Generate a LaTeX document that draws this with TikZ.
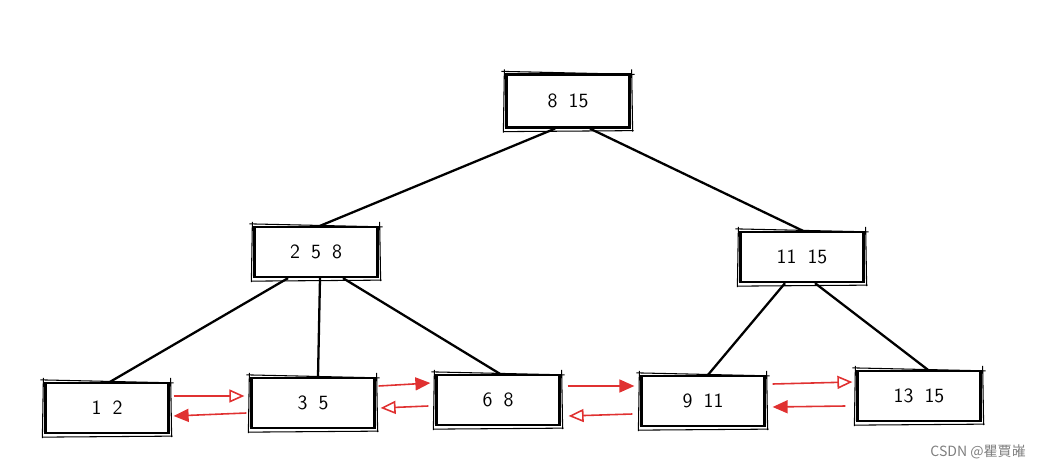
\documentclass[tikz,border=0pt]{standalone}
\usepackage{fontspec}
\newfontfamily\cjk{Noto Sans CJK SC}
\usetikzlibrary{arrows.meta,calc}
\definecolor{linkred}{RGB}{224,49,49}
\newcommand\keyfont{\sffamily\fontsize{11.5}{13}\selectfont\spaceskip=0.55em\relax}
\tikzset{
  keybox/.style={draw,line width=1.3pt,minimum width=2.46cm,minimum height=1cm,
    font=\keyfont},
  tedge/.style={line width=1.3pt},
  nxt/.style={linkred,line width=0.9pt,-{Triangle[open,length=3mm,width=2.6mm]}},
  prv/.style={linkred,line width=0.9pt,-{Triangle[length=3mm,width=2.6mm]}}
}
\begin{document}
\begin{tikzpicture}[x=0.02cm,y=-0.02cm]
\useasboundingbox (0,0) rectangle (1047,469);
%
\node[keybox,minimum height=1.06cm] (r) at (568,101) {8 15};
\node[keybox] (a) at (316,252) {2 5 8};
\node[keybox] (c) at (802,257) {11 15};
%
\node[keybox] (l1) at (107,408) {1 2};
\node[keybox] (l2) at (313,403) {3 5};
\node[keybox] (l3) at (498,400) {6 8};
\node[keybox] (l4) at (703,401) {9 11};
\node[keybox] (l5) at (919,396) {13 15};
% second stroke for the sketchy look
\foreach \n in {r,a,c,l1,l2,l3,l4,l5}{
  \draw[semithick] ($(\n.north west)+(-4,-2)$)--($(\n.north east)+(4,1)$);
  \draw[semithick] ($(\n.north east)+(1,-4)$)--($(\n.south east)+(2,3)$);
  \draw[semithick] ($(\n.south east)+(3,2)$)--($(\n.south west)+(-2,3)$);
  \draw[semithick] ($(\n.south west)+(-2,4)$)--($(\n.north west)+(-1,-4)$);}
%
\draw[tedge] ($(r.south)+(-13,0)$)--($(a.north)+(4,0)$);
\draw[tedge] ($(r.south)+(22,0)$)--($(c.north)+(1,0)$);
\draw[tedge] ($(a.south)+(-28,0)$)--($(l1.north)+(3,0)$);
\draw[tedge] ($(a.south)+(4,0)$)--($(l2.north)+(5,0)$);
\draw[tedge] ($(a.south)+(27,0)$)--($(l3.north)+(2,0)$);
\draw[tedge] ($(c.south)+(-17,0)$)--($(l4.north)+(5,0)$);
\draw[tedge] ($(c.south)+(13,0)$)--($(l5.north)+(9,0)$);
%===========================
\draw[nxt] ($(l1.east)+(4,-12)$)--($(l2.west)+(-6,-7)$);
\draw[prv] ($(l2.west)+(-4,10)$)--($(l1.east)+(4,8)$);
\draw[prv] ($(l2.east)+(3,-17)$)--($(l3.west)+(-5,-17)$);
\draw[nxt] ($(l3.west)+(-7,6)$)--($(l2.east)+(5,5)$);
\draw[prv] ($(l3.east)+(7,-14)$)--($(l4.west)+(-6,-15)$);
\draw[nxt] ($(l4.west)+(-8,13)$)--($(l3.east)+(8,16)$);
\draw[nxt] ($(l4.east)+(7,-17)$)--($(l5.west)+(-4,-14)$);
\draw[prv] ($(l5.west)+(-11,10)$)--($(l4.east)+(7,6)$);
%
\node[text=gray,font=\cjk\fontsize{8}{10}\selectfont,anchor=east] (wm) at (1032,452) {CSDN @瞿賈嶉};
\end{tikzpicture}
\end{document}
